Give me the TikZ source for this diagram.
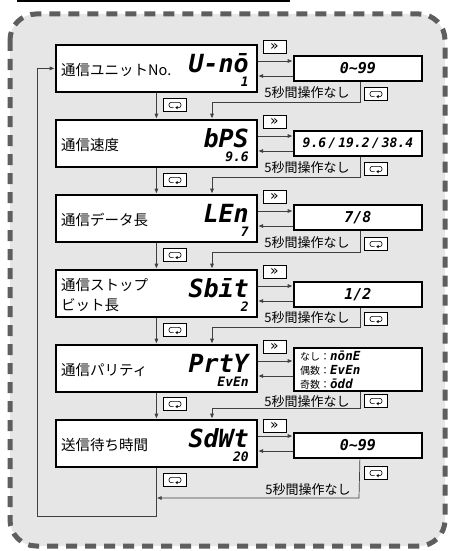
\documentclass[tikz,border=0pt]{standalone}
\usepackage{fontspec}
\setmainfont{Noto Sans CJK JP}
\newfontfamily\seg{DejaVu Sans Mono}
\newfontfamily\dv{DejaVu Sans}
\usetikzlibrary{arrows.meta,calc}
\definecolor{bgc}{HTML}{E6E6E7}
\definecolor{dashc}{HTML}{5E5E5E}
\definecolor{linec}{HTML}{404040}
\tikzset{
 mainbox/.style={draw=black,line width=1.8pt,fill=white,minimum width=201pt,minimum height=47pt,anchor=north west,inner sep=0pt},
 valbox/.style={draw=black,line width=1.8pt,fill=white,minimum width=128pt,minimum height=25pt,anchor=north west,inner sep=0pt,font=\seg\bfseries\itshape\fontsize{15}{15}\selectfont},
 conn/.style={draw=linec,line width=0.7pt},
 arr/.style={conn,-{Triangle[length=4.5pt,width=3.6pt]},shorten >=0.8pt},
 keybox/.style={draw=black,line width=0.8pt,fill=white,minimum width=23pt,minimum height=13pt,inner sep=0pt},
 fwd/.style={keybox,font=\dv\fontsize{14}{14}\selectfont},
 lab/.style={anchor=west,align=left,font=\fontsize{14.5}{20}\selectfont,inner sep=0pt},
 segbig/.style={anchor=east,font=\seg\bfseries\itshape\fontsize{25}{25}\selectfont,inner sep=0pt},
 segsmall/.style={anchor=east,font=\seg\bfseries\itshape\fontsize{13}{13}\selectfont,inner sep=0pt},
 note/.style={font=\fontsize{13}{13}\selectfont,inner sep=0pt},
 small/.style={anchor=west,inner sep=0pt,font=\fontsize{10}{10}\selectfont},
 cyc/.pic={\draw[line width=0.6pt,rounded corners=2.2pt] (-1.5,2.6) -- (-6,2.6) -- (-6,-2.6) -- (6,-2.6) -- (6,2.6) -- (1.5,2.6);
   \fill (0.3,2.6) -- ++(2.4,-1.7) -- ++(0,3.4) -- cycle;}
}
\begin{document}
\begin{tikzpicture}[x=1pt,y=-1pt]
\useasboundingbox (0,0) rectangle (455,551);
\draw[line width=2pt] (17,1) -- (290,1);
\path[fill=bgc,rounded corners=26pt] (10,14) rectangle (445,546);
\draw[dashc,line width=5pt,dash pattern=on 11pt off 8pt,rounded corners=26pt] (10,14) rectangle (445,546);

\foreach \i/\lab/\mn/\sb in {0/{通信ユニットNo.}/{U-nō}/1,1/{通信速度}/{bPS}/{9.6},2/{通信データ長}/{LEn}/7,3/{通信ストップ\\ビット長}/{Sbīt}/2,4/{通信パリティ}/{PrtY}/{EvEn},5/{送信待ち時間}/{SdWt}/20}{
  \pgfmathsetmacro\T{44+75*\i}
  \node[mainbox] (b\i) at (55,\T) {};
  \node[lab] (l\i) at (61,\T+26) {\lab};
  \node[segbig] (m\i) at (249,\T+19) {\mn};
  \node[segsmall] (s\i) at (249,\T+38) {\sb};
}

% value boxes
\node[valbox] (v0) at (293,55) {0\textasciitilde99};
\node[valbox,font=\seg\bfseries\itshape\fontsize{13}{13}\selectfont] (v1) at (293,130) {9.6\,/\,19.2\,/\,38.4};
\node[valbox] (v2) at (293,204) {7/8};
\node[valbox] (v3) at (293,281) {1/2};
\node[valbox,minimum height=43pt] (v4) at (293,347) {};
\node[valbox] (v5) at (293,432) {0\textasciitilde99};
\node[small] (p1) at (300,356) {なし：{\seg\bfseries\itshape\fontsize{12.5}{12}\selectfont nōnE}};
\node[small] (p2) at (300,370) {偶数：{\seg\bfseries\itshape\fontsize{12.5}{12}\selectfont EvEn}};
\node[small] (p3) at (300,384) {奇数：{\seg\bfseries\itshape\fontsize{12.5}{12}\selectfont ōdd}};

% forward / return arrows and >> keys
\foreach \i in {0,...,5}{
  \draw[arr] ([yshift=-17pt]b\i.north east) -- ([yshift=-17pt]b\i.north east -| v\i.west);
  \draw[arr] ([yshift=-32pt]b\i.north east -| v\i.west) -- ([yshift=-32pt]b\i.north east);
}
\foreach \i in {0,...,4}{
  \pgfmathsetmacro\T{44+75*\i}
  \node[fwd] (k\i) at (274.5,\T+2.5) {»};
}
\node[fwd] (k5) at (274.5,425.5) {»};

% down arrows between boxes
\foreach \i/\j in {0/1,1/2,2/3,3/4,4/5}{
  \draw[arr] (b\i.south) -- (b\j.north);
}

% timeout returns rows 0-3
\foreach \i/\j in {0/1,1/2,2/3,3/4}{
  \pgfmathsetmacro\T{44+75*\i}
  \node[note] (n\i) at (307,\T+49) {5秒間操作なし};
  \node[keybox] (r\i) at (376,\T+50) {};
  \pic at (r\i) {cyc};
  \node[keybox] (c\i) at (175,\T+61) {};
  \pic at (c\i) {cyc};
  \coordinate (h\i) at (212,\T+58);
  \draw[arr] ([xshift=2pt]v\i.south) |- (h\i) -- (h\i |- b\j.north);
}
% row 4
\node[note] (n4) at (307,402) {5秒間操作なし};
\node[keybox] (r4) at (376,401) {};
\pic at (r4) {cyc};
\node[keybox] (c4) at (175,404) {};
\pic at (c4) {cyc};
\coordinate (h4) at (212,408);
\draw[arr] ([xshift=2pt]v4.south) |- (h4) -- (h4 |- b5.north);
% row 5
\node[note] (n5) at (308,490) {5秒間操作なし};
\node[keybox] (r5) at (376,473) {};
\pic at (r5) {cyc};
\node[keybox] (c5) at (175,480) {};
\pic at (c5) {cyc};
\coordinate (h5) at (359,498);
\draw[arr] ([xshift=2pt]v5.south) -- (h5) -- (h5 -| b5.south);
% loop back
\coordinate (lb) at (37,516);
\draw[arr] (b5.south) |- (lb) |- (b0.west);
\end{tikzpicture}
\end{document}
